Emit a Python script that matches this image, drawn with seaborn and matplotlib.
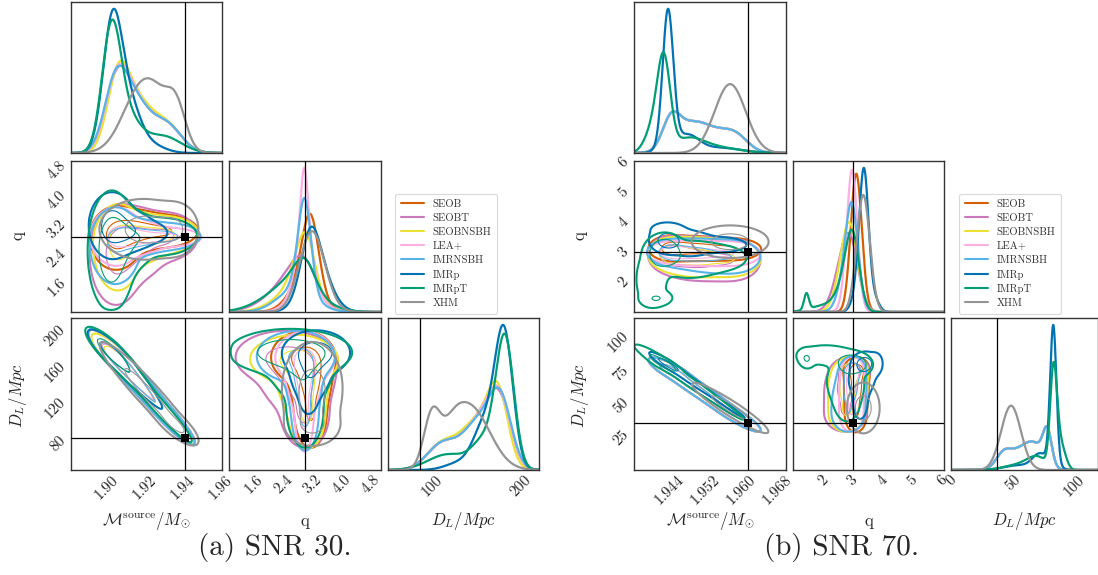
import numpy as np
import pandas as pd
import matplotlib
matplotlib.use("Agg")
import matplotlib.pyplot as plt
from matplotlib.lines import Line2D
import seaborn as sns

# ---------------------------------------------------------------- data
MODELS = ["SEOB", "SEOBT", "SEOBNSBH", "LEA+", "IMRNSBH", "IMRp", "IMRpT", "XHM"]
MODEL_COLORS = ["#D55E00", "#CC78BC", "#ECE133", "#FBAFE4", "#56B4E9",
                "#0173B2", "#029E73", "#949494"]
PARAM_LABELS = [r"$\mathcal{M}^{\mathrm{source}}/M_{\odot}$", "q", r"$D_L/Mpc$"]
CAPTIONS = ["(a) SNR 30.", "(b) SNR 70."]

# SNR 30 posterior summaries
# (each model: mixture components -> weight, D_L mean, D_L sd, q mean, q sd)
TRUTH_30 = [1.9415, 3.0, 87.0]
LIM_30 = [(1.881, 1.961), (0.93, 5.07), (51.0, 220.0)]
MC_LINE_30 = [1.9016, 184.0, 2391.0]      # Mc at reference D_L, reference D_L, Mpc per unit Mc
MC_NOISE_30 = [.003, .003, .003, .003, .003, .0028, .0028, .0035]
MC_SHIFT_30 = [0, 0, 0, 0, 0, 0, 0, 0]
W_30 = [[.40, .38, .22], [.40, .38, .22], [.40, .38, .22], [.40, .38, .22],
        [.40, .38, .22], [.65, .30, .05], [.63, .20, .17], [.22, .10, .68]]
DL_MU_30 = [[176, 152, 112], [176, 152, 112], [174, 150, 112], [176, 152, 112],
            [177, 152, 112], [181, 160, 130], [182, 160, 118], [100, 122, 143]]
DL_SD_30 = [[12.5, 17, 17], [13, 17, 17], [11.5, 17, 17], [12.5, 17, 17],
            [12.5, 17, 17], [10, 13, 15], [10, 14, 22], [9, 12, 22]]
Q_MU_30 = [[2.95, 3.15, 3.15], [2.45, 2.8, 3.0], [2.7, 2.95, 3.05], [3.0, 2.98, 2.98],
           [2.75, 2.97, 3.0], [3.3, 3.15, 3.1], [2.6, 2.9, 3.0], [3.2, 3.15, 3.2]]
Q_SD_30 = [[.4, .25, .2], [.62, .45, .3], [.55, .3, .22], [.38, .2, .1],
           [.5, .2, .15], [.38, .25, .2], [.7, .42, .25], [.33, .3, .36]]
MC_TICKS_30 = [1.90, 1.92, 1.94, 1.96]
MC_TICKLABELS_30 = ["1.90", "1.92", "1.94", "1.96"]
Q_TICKS_30 = [1.6, 2.4, 3.2, 4.0, 4.8]
Q_TICKLABELS_30 = ["1.6", "2.4", "3.2", "4.0", "4.8"]
DL_YTICKS_30 = [80, 120, 160, 200]
DL_YTICKLABELS_30 = ["80", "120", "160", "200"]
DL_XTICKS_30 = [100, 200]
DL_XTICKLABELS_30 = ["100", "200"]

# SNR 70
TRUTH_70 = [1.9615, 3.0, 37.0]
LIM_70 = [(1.936, 1.970), (1.0, 6.05), (0.0, 119.0)]
MC_LINE_70 = [1.9436, 82.8, 2460.0]
MC_NOISE_70 = [.0013, .0013, .0013, .0013, .0013, .0006, .0009, .0012]
MC_SHIFT_70 = [-.0013, -.0013, -.0013, -.0013, -.0013, 0, -.0008, 0]
W_70 = [[.22, .35, .28, .15], [.22, .35, .28, .15], [.22, .35, .28, .15],
        [.22, .35, .28, .15], [.22, .35, .28, .15],
        [.66, .17, .11, .06], [.52, .18, .12, .05, .13], [1.0]]
DL_MU_70 = [[78, 68, 54, 42], [78, 68, 54, 42], [78, 68, 54, 42], [78, 68, 54, 42],
            [78, 68, 54, 42], [82.8, 72, 55, 83], [83, 70, 55, 87, 90], [48.6]]
DL_SD_70 = [[3.5, 8, 9, 6], [3.5, 8, 9, 6], [3.5, 8, 9, 6], [3.5, 8, 9, 6],
            [3.5, 8, 9, 6], [2.5, 6, 12, 5], [2.7, 8, 12, 2.5, 3.5], [8]]
Q_MU_70 = [[3.13, 3.13, 3.1, 3.1], [2.95, 2.8, 2.75, 2.75], [2.95, 2.85, 2.8, 2.8],
           [3.0, 2.97, 2.95, 2.95], [3.0, 2.95, 2.85, 2.85],
           [3.38, 3.3, 3.25, 3.75], [3.0, 2.75, 2.8, 1.45, 2.1], [3.35]]
Q_SD_70 = [[.19, .19, .18, .18], [.25, .32, .35, .35], [.22, .3, .3, .3],
           [.15, .18, .2, .2], [.17, .22, .28, .28],
           [.15, .22, .2, .15], [.22, .3, .3, .08, .5], [.22]]
MC_TICKS_70 = [1.944, 1.952, 1.960, 1.968]
MC_TICKLABELS_70 = ["1.944", "1.952", "1.960", "1.968"]
Q_TICKS_70 = [2, 3, 4, 5, 6]
Q_TICKLABELS_70 = ["2", "3", "4", "5", "6"]
DL_YTICKS_70 = [25, 50, 75, 100]
DL_YTICKLABELS_70 = ["25", "50", "75", "100"]
DL_XTICKS_70 = [0, 50, 100]
DL_XTICKLABELS_70 = ["0", "50", "100"]

# ---------------------------------------------------------------- style
sns.set_theme(style="white")
plt.rcParams["font.family"] = ["cmr10", "DejaVu Serif"]
plt.rcParams["mathtext.fontset"] = "cm"
plt.rcParams["axes.formatter.use_mathtext"] = True
plt.rcParams["axes.edgecolor"] = "#333333"
plt.rcParams["axes.linewidth"] = 1.0

FW, FH = 1098, 575
fig = plt.figure(figsize=(FW / 100, FH / 100), dpi=100)

LEVELS = [0.05, 0.5]
TICK_FS = 11
SQ2PI = np.sqrt(2 * np.pi)


def gauss(x, m, s):
    return np.exp(-0.5 * ((x - m) / s) ** 2) / (s * SQ2PI)


def mc_of_dl(dl, line, shift):
    return line[0] + shift + (line[1] - dl) / line[2]


def mc_sd(dsd, line, noise):
    return np.hypot(dsd / line[2], noise)


def contour(ax, X, Y, D, col):
    m = D > D.max() * 1e-3
    sns.kdeplot(x=X[m], y=Y[m], weights=D[m], levels=LEVELS, bw_adjust=0.6,
                gridsize=90, cut=2, color=col, linewidths=[1.5, 0.8], ax=ax)


def draw_corner(col_px, row_px, cfg):
    axes = {}
    for r in range(3):
        for c in range(r + 1):
            x0, x1 = col_px[c]
            y0, y1 = row_px[r]
            axes[(r, c)] = fig.add_axes([x0 / FW, 1 - y1 / FH, (x1 - x0) / FW, (y1 - y0) / FH])
    lims, line = cfg["lim"], cfg["line"]
    g1 = [np.linspace(*lims[k], 500) for k in range(3)]
    gu = [np.linspace(*lims[k], 140) for k in range(3)]
    dmax = [0, 0, 0]
    for i, name in enumerate(MODELS):
        col = MODEL_COLORS[i]
        noise, sh = cfg["noise"][i], cfg["shift"][i]
        cp = list(zip(cfg["w"][i], cfg["dmu"][i], cfg["dsd"][i], cfg["qmu"][i], cfg["qsd"][i]))
        d_mc = sum(w * gauss(g1[0], mc_of_dl(m, line, sh), mc_sd(s, line, noise))
                   for w, m, s, _, _ in cp)
        d_q = sum(w * gauss(g1[1], qm, qs) for w, _, _, qm, qs in cp)
        d_dl = sum(w * gauss(g1[2], m, s) for w, m, s, _, _ in cp)
        for k, d in enumerate([d_mc, d_q, d_dl]):
            sns.lineplot(x=g1[k], y=d, ax=axes[(k, k)], color=col, lw=1.6,
                         estimator=None, sort=False, legend=False)
            dmax[k] = max(dmax[k], d.max())
        # Mc - q
        X, Y = np.meshgrid(gu[0], gu[1])
        D = sum(w * gauss(Y, qm, qs) * gauss(X, mc_of_dl(m, line, sh), mc_sd(s, line, noise))
                for w, m, s, qm, qs in cp)
        contour(axes[(1, 0)], X, Y, D, col)
        # q - D_L
        X, Y = np.meshgrid(gu[1], gu[2])
        D = sum(w * gauss(X, qm, qs) * gauss(Y, m, s) for w, m, s, qm, qs in cp)
        contour(axes[(2, 1)], X, Y, D, col)
        # Mc - D_L (along the degeneracy line)
        DLg, R = np.meshgrid(np.linspace(*lims[2], 320), np.linspace(-4 * noise, 4 * noise, 61))
        D = sum(w * gauss(DLg, m, s) for w, m, s, _, _ in cp) * gauss(R, 0, noise)
        contour(axes[(2, 0)], mc_of_dl(DLg, line, sh) + R, DLg, D, col)

    truth = cfg["truth"]
    for (r, c), ax in axes.items():
        ax.set_xlim(*lims[c])
        ax.set_xlabel("")
        ax.set_ylabel("")
        if r == c:
            ax.set_ylim(0, dmax[r] / 0.955)
            ax.set_yticks([])
            ax.axvline(truth[c], color="black", lw=0.9, zorder=4)
        else:
            ax.set_ylim(*lims[r])
            ax.axvline(truth[c], color="black", lw=0.9, zorder=4)
            ax.axhline(truth[r], color="black", lw=0.9, zorder=4)
            sns.scatterplot(x=[truth[c]], y=[truth[r]], marker="s", color="black",
                            s=30, edgecolor="black", linewidth=0, ax=ax, zorder=6, legend=False)
        xt = {0: (cfg["mc_t"], cfg["mc_tl"]), 1: (cfg["q_t"], cfg["q_tl"]),
              2: (cfg["dlx_t"], cfg["dlx_tl"])}[c]
        ax.set_xticks(xt[0])
        if r == 2:
            ax.set_xticklabels(xt[1], rotation=45, ha="center", fontsize=TICK_FS)
        else:
            ax.set_xticklabels([])
        if r != c:
            yt = {1: (cfg["q_t"], cfg["q_tl"]), 2: (cfg["dly_t"], cfg["dly_tl"])}[r]
            ax.set_yticks(yt[0])
            if c == 0:
                ax.set_yticklabels(yt[1], rotation=45, ha="right", va="center", fontsize=TICK_FS)
            else:
                ax.set_yticklabels([])
        ax.tick_params(length=0, pad=2)
        for sp in ax.spines.values():
            sp.set_visible(True)
            sp.set_color("#333333")
    return axes


LEFT_COLS = [(71, 222), (229, 381), (388, 539)]
RIGHT_COLS = [(634, 786), (793, 944), (951, 1098)]
ROWS = [(2, 153), (161, 312), (318, 470)]

cfg30 = dict(lim=LIM_30, line=MC_LINE_30, noise=MC_NOISE_30, shift=MC_SHIFT_30, truth=TRUTH_30,
             w=W_30, dmu=DL_MU_30, dsd=DL_SD_30, qmu=Q_MU_30, qsd=Q_SD_30,
             mc_t=MC_TICKS_30, mc_tl=MC_TICKLABELS_30, q_t=Q_TICKS_30, q_tl=Q_TICKLABELS_30,
             dly_t=DL_YTICKS_30, dly_tl=DL_YTICKLABELS_30, dlx_t=DL_XTICKS_30, dlx_tl=DL_XTICKLABELS_30)
cfg70 = dict(lim=LIM_70, line=MC_LINE_70, noise=MC_NOISE_70, shift=MC_SHIFT_70, truth=TRUTH_70,
             w=W_70, dmu=DL_MU_70, dsd=DL_SD_70, qmu=Q_MU_70, qsd=Q_SD_70,
             mc_t=MC_TICKS_70, mc_tl=MC_TICKLABELS_70, q_t=Q_TICKS_70, q_tl=Q_TICKLABELS_70,
             dly_t=DL_YTICKS_70, dly_tl=DL_YTICKLABELS_70, dlx_t=DL_XTICKS_70, dlx_tl=DL_XTICKLABELS_70)

draw_corner(LEFT_COLS, ROWS, cfg30)
draw_corner(RIGHT_COLS, ROWS, cfg70)

# axis labels and captions
for cols, ylx, ccx, cap in [(LEFT_COLS, 18, 275, CAPTIONS[0]), (RIGHT_COLS, 580, 841, CAPTIONS[1])]:
    for k in range(3):
        cx = (cols[k][0] + cols[k][1]) / 2
        fig.text(cx / FW, 1 - 521 / FH, PARAM_LABELS[k], ha="center", va="center", fontsize=12)
    fig.text(ylx / FW, 1 - 236 / FH, PARAM_LABELS[1], ha="center", va="center",
             rotation=90, fontsize=12)
    fig.text(ylx / FW, 1 - 396 / FH, PARAM_LABELS[2], ha="center", va="center",
             rotation=90, fontsize=12)
    fig.text(ccx / FW, 1 - 548 / FH, cap, ha="center", va="center", fontsize=21)

# legends
handles = [Line2D([0], [0], color=c, lw=1.5) for c in MODEL_COLORS]
for lx in (390, 954):
    leg = fig.legend(handles, MODELS, loc="upper left", bbox_to_anchor=(lx / FW, 1 - 189 / FH),
                     fontsize=7.7, frameon=True, handlelength=2.2, labelspacing=0.42,
                     borderpad=0.5, handletextpad=0.8, fancybox=True)
    leg.get_frame().set_edgecolor("#d0d0d0")
    leg.get_frame().set_linewidth(0.8)
    for t in leg.get_texts():
        t.set_color("#333333")

fig.savefig("out.png", dpi=100)
